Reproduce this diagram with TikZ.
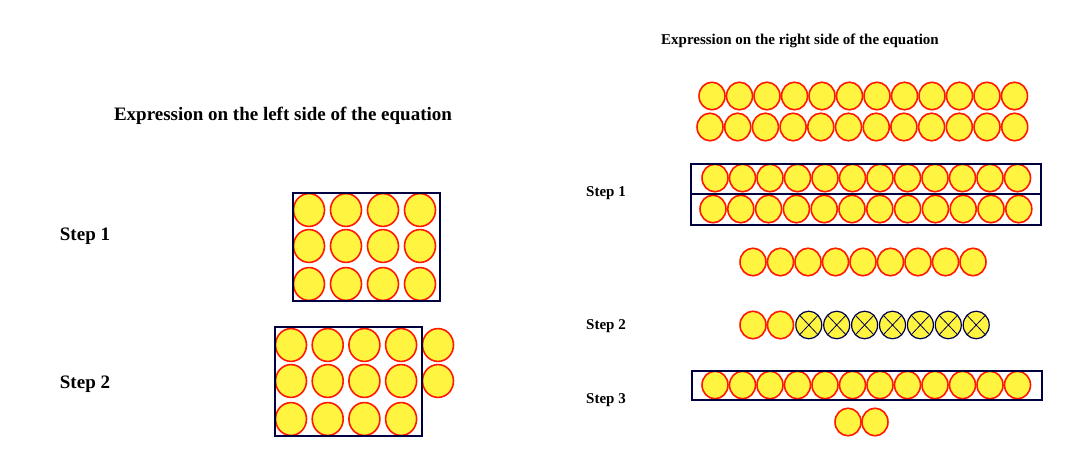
\documentclass[tikz,border=0pt]{standalone}
\usepackage{fontspec}
\setmainfont{Liberation Serif}
\begin{document}
\begin{tikzpicture}[x=1pt,y=-1pt,
  bead/.style={ellipse,draw=red!80!orange,line width=1.6pt,fill=yellow!75!white,minimum width=#1,minimum height=#1*1.06,inner sep=0pt},
  bead/.default=31,
  xbead/.style={bead=26,draw=blue!30!black,line width=1.2pt,path picture={\draw[blue!30!black,line width=0.8pt] (path picture bounding box.north west)--(path picture bounding box.south east) (path picture bounding box.south west)--(path picture bounding box.north east);}},
  frame/.style={draw=blue!25!black,line width=1.2pt},
  bigt/.style={font=\fontsize{19}{22}\selectfont\bfseries},
  smt/.style={font=\fontsize{15}{18}\selectfont\bfseries}]
\useasboundingbox (0,0) rectangle (1076,470);
\usetikzlibrary{shapes.geometric}
\node[bigt] (tl) at (283,116) {Expression on the left side of the equation};
\node[smt] (tr) at (800,41) {Expression on the right side of the equation};
\node[bigt] (s1) at (85,236) {Step 1};
\node[bigt] (s2) at (85,384) {Step 2};
\node[smt] (r1) at (606,193) {Step 1};
\node[smt] (r2) at (606,326) {Step 2};
\node[smt] (r3) at (606,400) {Step 3};
% left step 1
\foreach \i in {0,...,3}\foreach \j/\y in {0/210,1/246,2/284}
  \node[bead] (a\i\j) at (309+37*\i,\y) {};
\draw[frame] (293,193) rectangle (440,301);
% left step 2
\foreach \i in {0,...,3}\foreach \j/\y in {0/345,1/381,2/419}
  \node[bead] (b\i\j) at (291+36.7*\i,\y) {};
\node[bead] (b40) at (438,345) {};
\node[bead] (b41) at (438,381) {};
\draw[frame] (275,327) rectangle (422,436);
% right rows
\foreach \i in {0,...,11}{
  \node[bead=26] (p\i) at (712+27.5*\i,96) {};
  \node[bead=26] (q\i) at (710+27.7*\i,127) {};
  \node[bead=26] (u\i) at (715+27.5*\i,178) {};
  \node[bead=26] (v\i) at (713+27.8*\i,209) {};
  \node[bead=26] (w\i) at (715+27.5*\i,385) {};
}
\draw[frame] (691,164) rectangle (1041,194);
\draw[frame] (691,194) rectangle (1041,225);
\draw[frame] (692,371) rectangle (1042,400);
\foreach \i in {0,...,8}
  \node[bead=26] (m\i) at (753+27.5*\i,262) {};
\node[bead=26] (n0) at (753,325) {};
\node[bead=26] (n1) at (780.5,325) {};
\foreach \i in {2,...,8}
  \node[xbead] (n\i) at (753+27.9*\i,325) {};
\node[bead=26] (z0) at (848,422) {};
\node[bead=26] (z1) at (875,422) {};
\end{tikzpicture}
\end{document}
